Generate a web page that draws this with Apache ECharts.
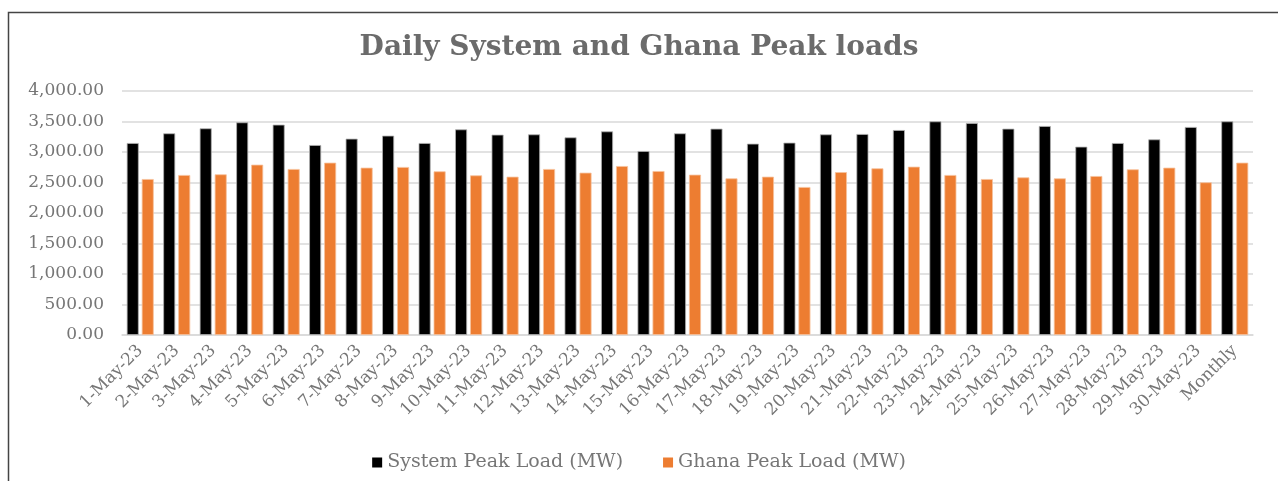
<!DOCTYPE html>
<html style="height: 100%">
<head>
    <meta charset="utf-8">
    <style type="text/css">
        .box{width: 1278px;height:481px;}
    </style>
</head>
<body style="height: 100%; margin: 0; background: #fff">
<div class="box" id="container"></div>
<script src="https://cdn.jsdelivr.net/npm/echarts@6/dist/echarts.min.js"></script>
<script type="text/javascript">
    var days = ['1-May-23','2-May-23','3-May-23','4-May-23','5-May-23','6-May-23','7-May-23','8-May-23',
        '9-May-23','10-May-23','11-May-23','12-May-23','13-May-23','14-May-23','15-May-23','16-May-23',
        '17-May-23','18-May-23','19-May-23','20-May-23','21-May-23','22-May-23','23-May-23','24-May-23',
        '25-May-23','26-May-23','27-May-23','28-May-23','29-May-23','30-May-23','Monthly'];
    // System Peak Load (MW)
    var systemPeak = [3147,3306,3388,3486,3448,3114,3218,3268,3147,3371,3284,3289,3240,3338,3016,3306,
        3382,3136,3153,3289,3295,3360,3502,3475,3382,3426,3087,3147,3207,3410,3502];
    // Ghana Peak Load (MW)
    var ghanaPeak = [2557,2623,2634,2792,2721,2825,2743,2754,2683,2617,2595,2721,2661,2770,2688,2628,
        2568,2595,2426,2670,2732,2759,2623,2557,2584,2568,2606,2716,2743,2503,2825];

    var dom = document.getElementById("container");
    var myChart = echarts.init(dom);
    var font = 'DejaVu Serif';
    var txtColor = '#767676';

    var option = {
        backgroundColor: '#fff',
        animation: false,
        color: ['#000000', '#ED7D31'],
        title: {
            text: 'Daily System and Ghana Peak loads',
            left: 'center',
            top: 29,
            textStyle: {
                fontFamily: font,
                fontWeight: 'bold',
                fontSize: 28,
                color: '#6b6b6b'
            }
        },
        legend: {
            top: 448,
            left: 'center',
            itemWidth: 10,
            itemHeight: 10,
            itemGap: 40,
            icon: 'rect',
            itemStyle: { borderWidth: 0 },
            data: ['System Peak Load (MW)', 'Ghana Peak Load (MW)'],
            textStyle: {
                fontFamily: font,
                fontSize: 19,
                color: txtColor
            }
        },
        grid: {
            left: 122,
            right: 25,
            top: 91,
            bottom: 146
        },
        xAxis: {
            type: 'category',
            data: days,
            axisTick: { show: false },
            axisLine: { lineStyle: { color: '#d9d9d9', width: 1.5 } },
            axisLabel: {
                interval: 0,
                rotate: 45,
                margin: 13,
                fontFamily: font,
                fontSize: 17,
                color: txtColor
            }
        },
        yAxis: {
            type: 'value',
            min: 0,
            max: 4000,
            interval: 500,
            axisLine: { show: false },
            axisTick: { show: false },
            splitLine: { lineStyle: { color: '#d9d9d9', width: 1.5 } },
            axisLabel: {
                margin: 18,
                fontFamily: font,
                fontSize: 17,
                color: txtColor,
                formatter: function (v) {
                    return v.toLocaleString('en-US', {minimumFractionDigits: 2, maximumFractionDigits: 2});
                }
            }
        },
        graphic: [{
            type: 'rect',
            silent: true,
            shape: { x: 8.5, y: 12.5, width: 1400, height: 600 },
            style: { fill: 'none', stroke: '#444', lineWidth: 1.5 }
        }],
        series: [
            {
                name: 'System Peak Load (MW)',
                type: 'bar',
                data: systemPeak,
                barGap: '25%',
                barCategoryGap: '26%',
                itemStyle: { borderColor: '#b0b0b0', borderWidth: 0.8 }
            },
            {
                name: 'Ghana Peak Load (MW)',
                type: 'bar',
                data: ghanaPeak,
                itemStyle: { borderColor: '#f6c29c', borderWidth: 0.8 }
            }
        ]
    };
    myChart.setOption(option, true);
</script>
</body>
</html>
